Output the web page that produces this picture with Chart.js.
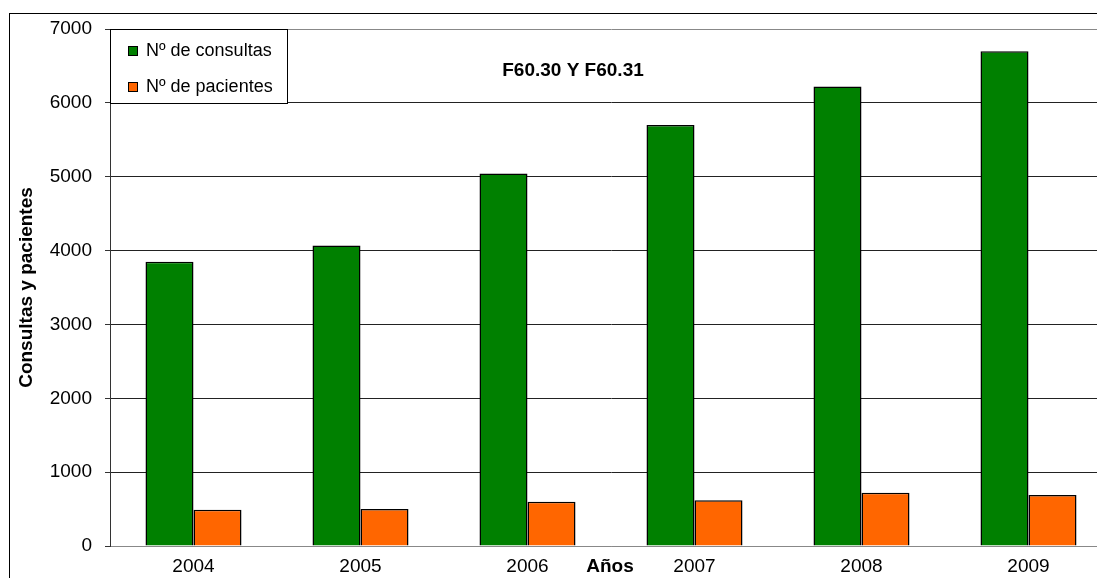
<!DOCTYPE html>
<html>
<head>
<meta charset="utf-8">
<script src="https://cdn.jsdelivr.net/npm/chart.js@4/dist/chart.umd.min.js"></script>
<style>
  html, body { margin: 0; padding: 0; background: #fff; }
  #wrap { position: absolute; left: 0; top: 0; width: 1097px; height: 578px; overflow: hidden; background: #fff; }
  canvas { display: block; }
</style>
</head>
<body>
<div id="wrap"><canvas id="c" width="1112" height="578"></canvas></div>
<script>
const years = ['2004', '2005', '2006', '2007', '2008', '2009'];
const consultas = [3850, 4070, 5045, 5700, 6220, 6700];
const pacientes = [490, 500, 600, 620, 720, 690];
const yTicks = [0, 1000, 2000, 3000, 4000, 5000, 6000, 7000];
const chartTitle = 'F60.30 Y F60.31';
const xTitle = 'Años';
const yTitle = 'Consultas y pacientes';

const FONT = "'Liberation Sans', Arial, sans-serif";

const decor = {
  id: 'decor',
  beforeDraw(chart) {
    const ctx = chart.ctx;
    ctx.save();
    ctx.fillStyle = '#fff';
    ctx.fillRect(0, 0, chart.width, chart.height);
    ctx.restore();
  },
  afterDraw(chart) {
    const ctx = chart.ctx;
    const ca = chart.chartArea;
    ctx.save();
    // outer chart border
    ctx.strokeStyle = '#000';
    ctx.lineWidth = 1;
    ctx.strokeRect(9.5, 13.5, 2000, 1000);
    // title
    ctx.fillStyle = '#000';
    ctx.font = 'bold 19px ' + FONT;
    ctx.textAlign = 'center';
    ctx.textBaseline = 'middle';
    ctx.fillText(chartTitle, 573, 71);
    // x-axis title
    ctx.fillText(xTitle, 610, 567);
    // legend box
    const lx = ca.left, ly = ca.top, lw = 177, lh = 74;
    ctx.fillStyle = '#fff';
    ctx.fillRect(lx, ly, lw, lh);
    ctx.strokeStyle = '#000';
    ctx.strokeRect(lx + 0.5, ly + 0.5, lw, lh);
    const rows = [ly + 22, ly + 58];
    chart.data.datasets.forEach((ds, i) => {
      const cy = rows[i];
      ctx.fillStyle = ds.backgroundColor;
      ctx.fillRect(lx + 18, cy - 4.5, 9, 9);
      ctx.strokeStyle = '#000';
      ctx.strokeRect(lx + 18.5, cy - 4.5, 9, 9);
      ctx.fillStyle = '#000';
      ctx.font = '18px ' + FONT;
      ctx.textAlign = 'left';
      ctx.textBaseline = 'middle';
      ctx.fillText(ds.label, lx + 36, cy);
    });
    ctx.restore();
  }
};

new Chart(document.getElementById('c'), {
  type: 'bar',
  data: {
    labels: years,
    datasets: [
      { label: 'Nº de consultas', data: consultas, backgroundColor: '#008000', borderColor: '#000', borderWidth: 1.5 },
      { label: 'Nº de pacientes', data: pacientes, backgroundColor: '#FF6600', borderColor: '#000', borderWidth: 1.5 }
    ]
  },
  options: {
    responsive: false,
    animation: false,
    devicePixelRatio: 1,
    layout: { padding: { top: 29, right: 0, bottom: 0, left: 0 } },
    datasets: { bar: { categoryPercentage: 0.575, barPercentage: 1.0 } },
    plugins: {
      legend: { display: false },
      title: { display: false },
      tooltip: { enabled: false }
    },
    scales: {
      x: {
        grid: { display: false, drawTicks: false },
        border: { display: true, color: '#888', width: 1 },
        ticks: { color: '#000', font: { family: FONT, size: 19 }, padding: 9, maxRotation: 0 },
        afterFit(scale) { scale.height = 32; }
      },
      y: {
        min: 0,
        max: 7000,
        afterBuildTicks(scale) { scale.ticks = yTicks.map(v => ({ value: v })); },
        grid: {
          color: ctx => (ctx.tick && (ctx.tick.value === 0 || ctx.tick.value === 7000)) ? '#888' : '#222',
          tickColor: '#333',
          tickLength: 5,
          lineWidth: 1
        },
        border: { display: true, color: '#333', width: 1 },
        ticks: { color: '#000', font: { family: FONT, size: 19 }, padding: 13, callback: v => String(v) },
        title: {
          display: true,
          text: yTitle,
          color: '#000',
          font: { family: FONT, size: 19, weight: 'bold' },
          padding: { top: 15, bottom: 0 }
        },
        afterFit(scale) { scale.width = 110; }
      }
    }
  },
  plugins: [decor]
});
</script>
</body>
</html>
